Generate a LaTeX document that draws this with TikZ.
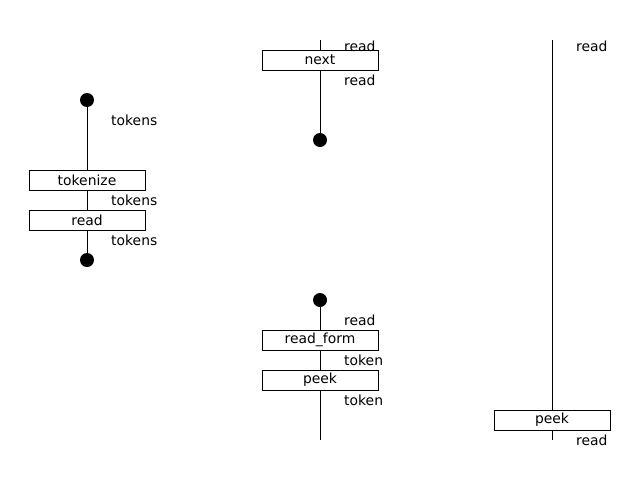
\documentclass[tikz,border=0pt]{standalone}
\usepackage{fontspec}
\setmainfont{DejaVu Sans}
\begin{document}
\begin{tikzpicture}[x=1pt,y=-1pt,
  font=\fontsize{13.9}{16}\selectfont,
  box/.style={draw=black,line width=1pt,fill=white,minimum width=116pt,minimum height=20pt,inner sep=0pt},
  dot/.style={circle,fill=black,minimum size=14pt,inner sep=0pt},
  lbl/.style={anchor=west,inner sep=0pt},
  wire/.style={draw=black,line width=1pt}]
\useasboundingbox (0,0) rectangle (640,480);

% left chain: tokenize -> read
\node[dot] (d1) at (87,100) {};
\node[box] (tokenize) at (87,180) {tokenize};
\node[box] (read1) at (87,220) {read};
\node[dot] (d2) at (87,260) {};
\draw[wire] (d1) -- (tokenize);
\draw[wire] (tokenize) -- (read1);
\draw[wire] (read1) -- (d2);
\node[lbl] (t1) at (111,120) {tokens};
\node[lbl] (t2) at (111,200) {tokens};
\node[lbl] (t3) at (111,240) {tokens};

% middle upper: next
\coordinate (c1) at (320,40);
\node[box] (next) at (320,60) {next};
\node[dot] (d3) at (320,140) {};
\draw[wire] (c1) -- (next);
\draw[wire] (next) -- (d3);
\node[lbl] (r1) at (344,46) {read};
\node[lbl] (r2) at (344,80) {read};

% middle lower: read_form -> peek
\node[dot] (d4) at (320,300) {};
\node[box] (readform) at (320,340) {read\_form};
\node[box] (peek1) at (320,380) {peek};
\coordinate (c2) at (320,440);
\draw[wire] (d4) -- (readform);
\draw[wire] (readform) -- (peek1);
\draw[wire] (peek1) -- (c2);
\node[lbl] (r3) at (344,320) {read};
\node[lbl] (k1) at (344,360) {token};
\node[lbl] (k2) at (344,400) {token};

% right: peek
\coordinate (c3) at (552,40);
\node[box] (peek2) at (552,420) {peek};
\coordinate (c4) at (552,440);
\draw[wire] (c3) -- (peek2);
\draw[wire] (peek2) -- (c4);
\node[lbl] (r4) at (576,46) {read};
\node[lbl] (r5) at (576,440) {read};
\end{tikzpicture}
\end{document}
